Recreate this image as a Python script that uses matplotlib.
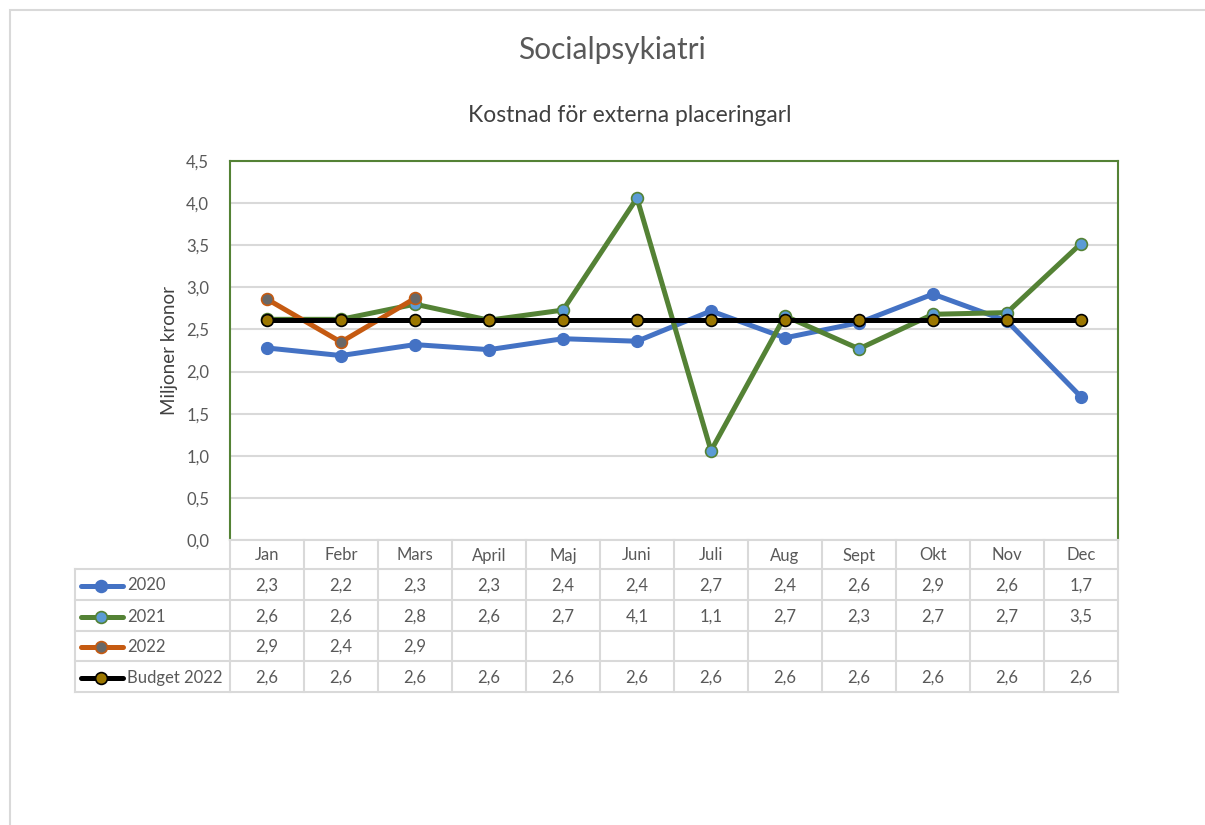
import matplotlib
matplotlib.use("Agg")
import matplotlib.pyplot as plt
from matplotlib.lines import Line2D
from matplotlib.patches import Rectangle
import matplotlib.ticker as mticker

plt.rcParams['font.family'] = ['Lato', 'DejaVu Sans']

months = ["Jan", "Febr", "Mars", "April", "Maj", "Juni", "Juli", "Aug", "Sept", "Okt", "Nov", "Dec"]
s2020 = [2.28, 2.19, 2.32, 2.26, 2.39, 2.36, 2.72, 2.40, 2.58, 2.92, 2.60, 1.70]
s2021 = [2.62, 2.62, 2.80, 2.61, 2.73, 4.06, 1.06, 2.66, 2.27, 2.68, 2.70, 3.52]
s2022 = [2.86, 2.35, 2.87]
budget = [2.61] * 12
labels2020 = ["2,3", "2,2", "2,3", "2,3", "2,4", "2,4", "2,7", "2,4", "2,6", "2,9", "2,6", "1,7"]
labels2021 = ["2,6", "2,6", "2,8", "2,6", "2,7", "4,1", "1,1", "2,7", "2,3", "2,7", "2,7", "3,5"]
labels2022 = ["2,9", "2,4", "2,9"]
labelsBudget = ["2,6"] * 12
series_names = ["2020", "2021", "2022", "Budget 2022"]

W, H = 1205, 825
fig = plt.figure(figsize=(W / 100, H / 100), dpi=100)

def fx(px):
    return px / W

def fy(py):
    return 1 - py / H

# outer frame
fig.patches.append(Rectangle((fx(10), fy(830)), fx(1200), fy(10) - fy(830),
                             transform=fig.transFigure, fill=False,
                             edgecolor="#D9D9D9", linewidth=1.5))

L, R, T, B = 230, 1118, 161, 540
ax = fig.add_axes([fx(L), fy(B), fx(R) - fx(L), fy(T) - fy(B)])

grey = "#595959"
green_border = "#548235"

x = list(range(12))
ax.plot(x, s2020, color="#4472C4", lw=3.6, marker="o", ms=8.5,
        mfc="#4472C4", mec="#4472C4", zorder=3, solid_capstyle="round")
ax.plot(x, s2021, color="#548235", lw=3.6, marker="o", ms=8.5,
        mfc="#5B9BD5", mec="#548235", mew=1.2, zorder=4)
ax.plot(x[:len(s2022)], s2022, color="#C55A11", lw=3.6, marker="o", ms=8.5,
        mfc="#686868", mec="#C55A11", mew=1.2, zorder=5)
ax.plot(x, budget, color="black", lw=3.6, marker="o", ms=8.5,
        mfc="#9C7700", mec="black", mew=1.2, zorder=6)

ax.set_xlim(-0.5, 11.5)
ax.set_ylim(0, 4.5)
ax.yaxis.set_major_locator(mticker.MultipleLocator(0.5))
ax.yaxis.set_major_formatter(mticker.FuncFormatter(lambda v, p: f"{v:.1f}".replace(".", ",")))
ax.set_xticks([])
ax.grid(axis="y", color="#D9D9D9", lw=1.5)
ax.set_axisbelow(True)
ax.tick_params(axis="y", length=0, labelsize=12, labelcolor=grey, pad=15)
for side in ["left", "top", "right"]:
    ax.spines[side].set_color(green_border)
    ax.spines[side].set_linewidth(1.5)
ax.spines["bottom"].set_visible(False)

ax.set_ylabel("Miljoner kronor", fontsize=13.5, color="#404040", labelpad=6)

# titles
fig.text(fx(612), fy(50), "Socialpsykiatri", ha="center", va="center", fontsize=21.5, color=grey)
fig.text(fx(630), fy(116), "Kostnad för externa placeringarl", ha="center", va="center",
         fontsize=16.5, color="#404040")

# data table
row_edges = [540, 569, 600, 631, 661, 692]
col_w = (R - L) / 12
tbl_color = "#D9D9D9"
tkw = dict(transform=fig.transFigure, color=tbl_color, lw=1.5, zorder=1)

fig.add_artist(Line2D([fx(L), fx(R)], [fy(row_edges[0])] * 2, **tkw))
for ry in row_edges[1:]:
    fig.add_artist(Line2D([fx(75), fx(R)], [fy(ry)] * 2, **tkw))
for i in range(13):
    cx = L + i * col_w
    fig.add_artist(Line2D([fx(cx)] * 2, [fy(row_edges[0]), fy(row_edges[-1])], **tkw))
fig.add_artist(Line2D([fx(75)] * 2, [fy(row_edges[1]), fy(row_edges[-1])], **tkw))

for i, m in enumerate(months):
    cx = L + (i + 0.5) * col_w
    fig.text(fx(cx), fy((row_edges[0] + row_edges[1]) / 2 + 1), m, ha="center", va="center",
             fontsize=12, color=grey)

row_labels = [labels2020, labels2021, labels2022, labelsBudget]
styles = [
    dict(color="#4472C4", mfc="#4472C4", mec="#4472C4"),
    dict(color="#548235", mfc="#5B9BD5", mec="#548235"),
    dict(color="#C55A11", mfc="#686868", mec="#C55A11"),
    dict(color="black", mfc="#9C7700", mec="black"),
]
for r, (name, labs, st) in enumerate(zip(series_names, row_labels, styles)):
    cy = (row_edges[r + 1] + row_edges[r + 2]) / 2 + 1
    fig.add_artist(Line2D([fx(81), fx(123)], [fy(cy)] * 2, transform=fig.transFigure,
                          color=st["color"], lw=3.6, solid_capstyle="round", zorder=2))
    fig.add_artist(Line2D([fx(101)], [fy(cy)], transform=fig.transFigure, marker="o", ms=8.5,
                          mfc=st["mfc"], mec=st["mec"], mew=1.2, lw=0, zorder=3))
    fig.text(fx(127), fy(cy), name, ha="left", va="center", fontsize=12, color=grey)
    for i, lab in enumerate(labs):
        cx = L + (i + 0.5) * col_w
        fig.text(fx(cx), fy(cy), lab, ha="center", va="center", fontsize=12, color=grey)

fig.savefig("out.png", dpi=100, facecolor="white")
